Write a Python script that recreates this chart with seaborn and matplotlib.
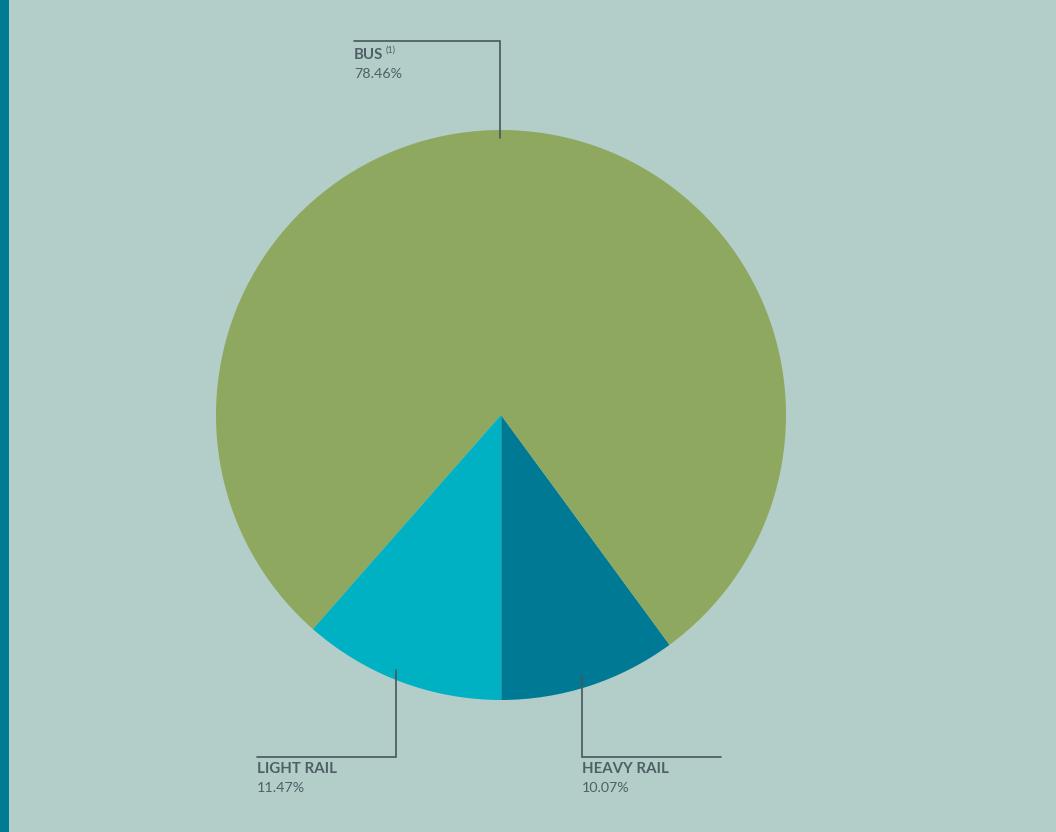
import matplotlib
matplotlib.use("Agg")
import matplotlib.pyplot as plt
import seaborn as sns

# Share of trips by mode
modes = ["HEAVY RAIL", "BUS", "LIGHT RAIL"]
shares = [10.07, 78.46, 11.47]
share_labels = ["10.07%", "78.46%", "11.47%"]
colors = ["#007A94", "#8FA85F", "#00B1C4"]

BG = "#B3CEC9"
INK = "#4E5F66"
LINE = "#46565B"

sns.set_style("white")
plt.rcParams["font.family"] = ["Lato", "DejaVu Sans"]

W, H = 1056, 832
fig = plt.figure(figsize=(W / 100, H / 100), dpi=100, facecolor=BG)
ax = fig.add_axes([0, 0, 1, 1])
ax.set_facecolor(BG)

# accent strip on the left edge
ax.axvspan(0, 9, color="#007B93", lw=0)

cx, cy, r = 501, H - 415, 285
ax.pie(shares, colors=colors, startangle=-90, counterclock=True,
       center=(cx, cy), radius=r, frame=True,
       wedgeprops=dict(linewidth=0))
ax.set_xlim(0, W)
ax.set_ylim(0, H)
ax.set_aspect("equal")
ax.axis("off")

# faint seam between the two rail wedges
ax.plot([cx, cx], [cy, cy - r], color=(1, 1, 1, 0.2), lw=0.6)


def Y(y):
    return H - y


# leader lines
lw = 1.2
ax.plot([354, 500, 500], [Y(41), Y(41), Y(138)], color=LINE, lw=lw,
        solid_joinstyle="miter")
ax.plot([396, 396, 257], [Y(670), Y(757), Y(757)], color=LINE, lw=lw,
        solid_joinstyle="miter")
ax.plot([582, 582, 721], [Y(676), Y(757), Y(757)], color=LINE, lw=lw,
        solid_joinstyle="miter")

fs_head = 10.8
fs_val = 10.3

# BUS label
ax.text(354, Y(55), modes[1], fontsize=fs_head, fontweight="bold",
        color=INK, va="center", ha="left")
ax.text(386, Y(50), "(1)", fontsize=6.5, color=INK, va="center", ha="left")
ax.text(354, Y(74), share_labels[1], fontsize=fs_val, color=INK,
        va="center", ha="left")

# LIGHT RAIL label
ax.text(257, Y(769), modes[2], fontsize=fs_head, fontweight="bold",
        color=INK, va="center", ha="left")
ax.text(257, Y(788), share_labels[2], fontsize=fs_val, color=INK,
        va="center", ha="left")

# HEAVY RAIL label
ax.text(582, Y(769), modes[0], fontsize=fs_head, fontweight="bold",
        color=INK, va="center", ha="left")
ax.text(582, Y(788), share_labels[0], fontsize=fs_val, color=INK,
        va="center", ha="left")

fig.savefig("out.png", dpi=100, facecolor=BG)
